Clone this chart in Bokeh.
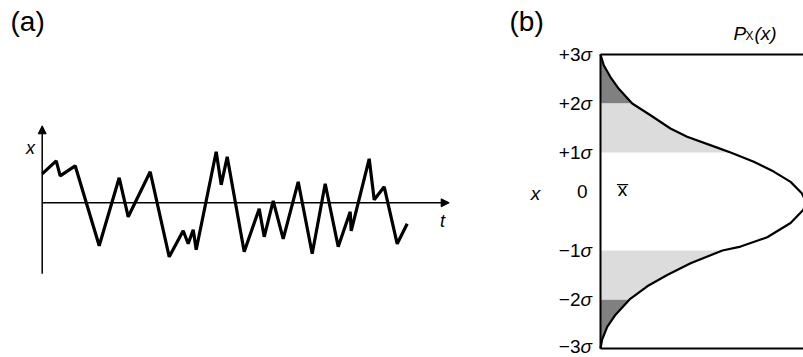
import numpy as np
from bokeh.plotting import figure
from bokeh.layouts import row
from bokeh.models import Range1d, Arrow, NormalHead
from bokeh.core.properties import value
from bokeh.embed import file_html
from bokeh.resources import INLINE

# ---------------- data ----------------
# Panel (a): random signal x(t), vertices
t_vals = [0.0, 1.4, 1.8, 3.3, 5.7, 7.7, 8.6, 10.8, 12.7, 14.1,
          14.6, 15.1, 15.4, 17.4, 17.9, 18.5, 20.2, 21.7, 22.2, 23.1,
          24.1, 25.6, 27.0, 28.3, 29.6, 30.8, 30.9, 32.7, 33.2, 34.2,
          35.5, 36.5]
x_vals = [2.9, 4.2, 2.7, 3.7, -4.3, 2.5, -1.4, 3.1, -5.4, -2.8,
          -4.1, -2.7, -4.7, 5.1, 1.8, 4.6, -4.9, -0.6, -3.4, 0.2,
          -3.6, 2.1, -5.1, 1.9, -4.4, -0.9, -2.8, 4.4, 0.3, 1.6,
          -4.1, -2.1]
T_AXIS_END = 40.7
X_AXIS_TOP = 7.7
X_AXIS_BOTTOM = -7.1

# Panel (b): probability density P_x(x) vs x in sigma units
sig = [3.0, 2.78, 2.54, 2.30, 2.0, 1.76, 1.49, 1.32, 1.10, 1.0,
       0.81, 0.61, 0.40, 0.17, 0.0, -0.17, -0.44, -0.73, -0.92, -1.0,
       -1.26, -1.50, -1.73, -2.0, -2.31, -2.56, -2.82, -3.0]
dens = [0.0, 0.016, 0.049, 0.090, 0.156, 0.246, 0.344, 0.426, 0.574, 0.64,
        0.754, 0.852, 0.935, 0.99, 1.01, 0.998, 0.935, 0.82, 0.689, 0.60,
        0.443, 0.328, 0.230, 0.143, 0.074, 0.033, 0.008, 0.0]
sigma_levels = [3, 2, 1, -1, -2]
sigma_numbers = ["+3", "+2", "+1", "\u22121", "\u22122"]
bottom_level = -3
bottom_number = "\u22123"
BOX_D_MAX = 1.3

FONT = value("Liberation Sans")

# ---------------- panel (a) ----------------
pa = figure(width=508, height=357, x_range=Range1d(-4.17, 46.63),
            y_range=Range1d(-15.47, 20.23), output_backend="svg",
            toolbar_location=None, x_axis_location=None, y_axis_location=None,
            min_border=0)
pa.grid.visible = False
pa.outline_line_color = None

pa.add_layout(Arrow(end=NormalHead(size=8, fill_color="black", line_color="black", line_width=1),
                    x_start=0, y_start=X_AXIS_BOTTOM, x_end=0, y_end=X_AXIS_TOP,
                    line_color="black", line_width=1.5))
pa.add_layout(Arrow(end=NormalHead(size=8, fill_color="black", line_color="black", line_width=1),
                    x_start=0, y_start=0, x_end=T_AXIS_END, y_end=0,
                    line_color="black", line_width=1.5))
pa.line(t_vals, x_vals, line_color="black", line_width=3.2)

pa.text(x=[-3.17], y=[20.23], text=["(a)"], text_font=FONT, text_font_size="28px",
        text_align="left", text_baseline="middle", y_offset=21, text_color="black")
pa.text(x=[-1.17], y=[5.53], text=["x"], text_font=FONT, text_font_size="18px",
        text_font_style="italic", text_align="center", text_baseline="middle")
pa.text(x=[40.03], y=[-1.77], text=["t"], text_font=FONT, text_font_size="18px",
        text_font_style="italic", text_align="center", text_baseline="middle")

# ---------------- panel (b) ----------------
pb = figure(width=295, height=357, x_range=Range1d(-0.4525, 0.9985),
            y_range=Range1d(-3.184, 4.102), output_backend="svg",
            toolbar_location=None, x_axis_location=None, y_axis_location=None,
            min_border=0)
pb.grid.visible = False
pb.outline_line_color = None

s = np.array(sig)
d = np.array(dens)
dark = np.abs(s) >= 2
light = (np.abs(s) >= 1) & (np.abs(s) <= 2)
for mask, col in ((dark & (s > 0), "#808080"), (dark & (s < 0), "#808080"),
                  (light & (s > 0), "#dcdcdc"), (light & (s < 0), "#dcdcdc")):
    pb.harea(x1=0, x2=d[mask], y=s[mask], fill_color=col, fill_alpha=1)

pb.line(dens, sig, line_color="black", line_width=2.2)
pb.line([0, 0], [-3, 3], line_color="black", line_width=2)
pb.line([0, BOX_D_MAX], [3, 3], line_color="black", line_width=2)
pb.line([0, BOX_D_MAX], [-3, -3], line_color="black", line_width=2)

pb.text(x=[0] * len(sigma_levels), y=sigma_levels, text=sigma_numbers, text_font=FONT,
        text_font_size="19px", text_align="right", text_baseline="middle", x_offset=-20)
pb.text(x=[0] * len(sigma_levels), y=sigma_levels, text=["\u03c3"] * len(sigma_levels),
        text_font=FONT, text_font_size="19px", text_font_style="italic",
        text_align="left", text_baseline="middle", x_offset=-20)
pb.text(x=[0], y=[bottom_level], text=[bottom_number], text_font=FONT,
        text_font_size="19px", text_align="right", text_baseline="middle",
        x_offset=-20, y_offset=-2)
pb.text(x=[0], y=[bottom_level], text=["\u03c3"], text_font=FONT,
        text_font_size="19px", text_font_style="italic", text_align="left",
        text_baseline="middle", x_offset=-20, y_offset=-2)
pb.text(x=[0], y=[0], text=["0"], text_font=FONT, text_font_size="19px",
        text_align="right", text_baseline="middle", x_offset=-13, y_offset=-10)
pb.text(x=[0], y=[0], text=["x"], text_font=FONT, text_font_size="19px",
        text_font_style="italic", text_align="center", text_baseline="middle",
        x_offset=-65, y_offset=-8)
pb.text(x=[0], y=[0], text=["x\u0305"], text_font=FONT, text_font_size="19px",
        text_align="center", text_baseline="middle", x_offset=22, y_offset=-12)
pb.text(x=[0], y=[3], text=["(b)"], text_font=FONT, text_font_size="28px",
        text_align="left", text_baseline="middle", x_offset=-91, y_offset=-33)
pb.text(x=[0], y=[3], text=["P"], text_font=FONT, text_font_size="19px",
        text_font_style="italic", text_align="left", text_baseline="alphabetic",
        x_offset=133, y_offset=-21)
pb.text(x=[0], y=[3], text=["X"], text_font=FONT, text_font_size="12px",
        text_align="left", text_baseline="alphabetic", x_offset=145, y_offset=-18)
pb.text(x=[0], y=[3], text=["(x)"], text_font=FONT, text_font_size="19px",
        text_font_style="italic", text_align="left", text_baseline="alphabetic",
        x_offset=154, y_offset=-21)

layout = row(pa, pb)
open("out.html", "w").write(file_html(layout, INLINE))
